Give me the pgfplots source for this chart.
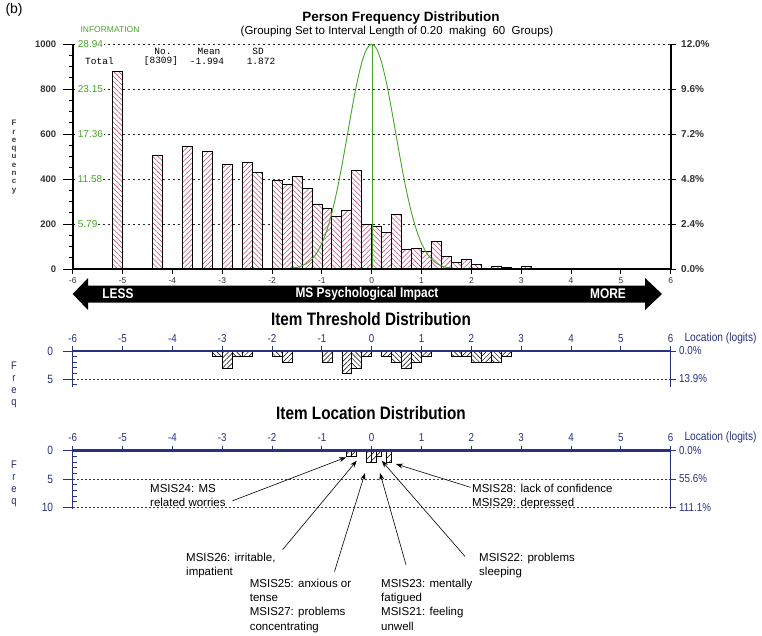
\documentclass[border=0pt]{standalone}
\usepackage{pgfplots}
\pgfplotsset{compat=1.18}
\usetikzlibrary{patterns.meta,arrows.meta}
\usepackage{fontspec}
\setmainfont{Liberation Sans}
\newfontfamily\narrow[FakeStretch=0.85]{Liberation Sans}
\newfontfamily\mono{Liberation Mono}
\definecolor{navy}{RGB}{40,50,125}
\definecolor{igreen}{RGB}{70,165,40}
\definecolor{hpink}{RGB}{195,75,115}
\newcommand{\fs}[2]{\fontsize{#1}{#2}\selectfont}
\pgfplotsset{/pgf/number format/assume math mode=true}
\begin{document}
\begin{tikzpicture}
\useasboundingbox (0,0) rectangle (762pt,-635pt);
% ================= Person Frequency Distribution =================
\begin{axis}[
  at={(72.7pt,-269pt)}, anchor=south west,
  scale only axis, width=598pt, height=225pt,
  xmin=-6, xmax=6, ymin=0, ymax=1000,
  axis x line=none, axis y line*=left,
  axis line style={line width=1.6pt, black},
  xtick=\empty,
  ytick={0,200,400,600,800,1000},
  yticklabels={0,200,400,600,800,1000},
  minor ytick={50,100,150,250,300,350,450,500,550,650,700,750,850,900,950},
  tick align=outside, major tick length=10pt, minor tick length=4pt,
  tick style={black, line width=0.8pt},
  yticklabel style={font=\bfseries\fs{9.5}{10}, text=black!80, xshift=-3pt},
  ymajorgrids, grid style={black!85, dash pattern=on 2.5pt off 2.5pt, line width=0.7pt},
  clip=false,
]
% even bins
\addplot[ybar, bar width=0.2, bar shift=0pt, fill=white, draw=black, line width=0.7pt,
  postaction={pattern={Lines[angle=-45,distance=3.6pt,line width=0.55pt]},pattern color=hpink}]
  coordinates {(-5.1,880) (-4.3,503) (-2.3,431) (-1.9,396) (-1.5,410) (-1.1,289) (-0.7,232) (-0.3,437)
  (0.1,188) (0.5,244) (0.9,93) (1.3,123) (1.7,29) (2.1,19) (2.5,10) (4.1,3) (4.9,3)};
% odd bins
\addplot[ybar, bar width=0.2, bar shift=0pt, fill=white, draw=black, line width=0.7pt,
  postaction={pattern={Lines[angle=45,distance=3.6pt,line width=0.55pt]},pattern color=hpink}]
  coordinates {(-3.7,545) (-3.3,521) (-2.9,463) (-2.5,472) (-1.7,378) (-1.3,358) (-0.9,270) (-0.5,259)
  (-0.1,200) (0.3,161) (0.7,86) (1.1,80) (1.5,56) (1.9,41) (2.7,8) (3.1,10)};
% information curve
\addplot[igreen, line width=0.9pt, smooth] coordinates {
 (-2.4,0) (-2.0,0.2) (-1.8,0.9) (-1.6,3.9) (-1.5,7.6) (-1.4,14) (-1.3,25.5) (-1.2,44) (-1.1,72)
 (-1.0,114) (-0.9,172) (-0.8,249) (-0.7,345) (-0.6,458) (-0.5,581) (-0.4,707) (-0.3,823)
 (-0.2,917) (-0.1,978) (0,1000) (0.1,978) (0.2,917) (0.3,823) (0.4,707) (0.5,581) (0.6,458)
 (0.7,345) (0.8,249) (0.9,172) (1.0,114) (1.1,72) (1.2,44) (1.3,25.5) (1.4,14) (1.5,7.6)
 (1.6,3.9) (1.8,0.9) (2.0,0.2) (2.4,0)};
\addplot[color=igreen, line width=1.3pt] coordinates {(0.01,0) (0.01,1000)};
\foreach \v/\t in {1000/28.94,800/23.15,600/17.36,400/11.58,200/5.79}{
  \edef\tmp{\noexpand\node[igreen, fill=white, inner sep=1pt, anchor=west, font=\noexpand\fs{10}{11}] at (axis cs:-6,\v) [xshift=4pt] {\t};}\tmp
}
\end{axis}
\begin{axis}[
  at={(72.7pt,-269pt)}, anchor=south west,
  scale only axis, width=598pt, height=225pt,
  xmin=-6, xmax=6, ymin=0, ymax=1000,
  axis x line*=bottom, axis y line*=right,
  axis line style={line width=1.6pt, black},
  xtick={-6,-5,-4,-3,-2,-1,0,1,2,3,4,5,6},
  xticklabels={-6,-5,-4,-3,-2,-1,0,1,2,3,4,5,6},
  ytick={0,200,400,600,800,1000},
  yticklabels={0.0\%,2.4\%,4.8\%,7.2\%,9.6\%,12.0\%},
  tick align=outside, major tick length=5pt,
  tick style={black, line width=0.8pt},
  xticklabel style={font=\fs{8.5}{9}, text=black!80},
  yticklabel style={font=\bfseries\fs{10}{11}, text=black!80, xshift=2pt},
]
\addplot[draw=none] coordinates {(0,0)};
\end{axis}
% ================= Item Threshold Distribution =================
\begin{axis}[
  at={(72.7pt,-351pt)}, anchor=north west,
  scale only axis, width=598pt, height=36.4pt,
  xmin=-6, xmax=6, ymin=-6.5, ymax=0,
  axis x line=none, axis y line*=left,
  axis line style={line width=1.4pt, navy},
  xtick=\empty, ytick={-5,0}, yticklabels={5,0},
  minor ytick={-6,-4,-3,-2,-1},
  tick align=outside, major tick length=10pt, minor tick length=4pt,
  tick style={navy, line width=0.8pt},
  minor tick style={xshift=4pt},
  yticklabel style={font=\narrow\fs{12}{13}, text=navy, xshift=-6pt},
  ymajorgrids, grid style={navy, dash pattern=on 2pt off 2pt, line width=0.7pt},
]
\addplot[ybar, bar width=0.2, bar shift=0pt, fill=white, draw=black, line width=0.6pt,
  postaction={pattern={Lines[angle=-45,distance=3.5pt,line width=0.5pt]}}]
  coordinates {(-3.1,-1) (-2.7,-1) (-1.9,-1) (-0.3,-3) (0.5,-2) (0.9,-2) (1.7,-1) (2.1,-2) (2.5,-2)};
\addplot[ybar, bar width=0.2, bar shift=0pt, fill=white, draw=black, line width=0.6pt,
  postaction={pattern={Lines[angle=45,distance=3.5pt,line width=0.5pt]}}]
  coordinates {(-2.9,-3) (-2.5,-1) (-1.7,-2) (-0.9,-2) (-0.5,-4) (-0.1,-1) (0.3,-1) (0.7,-3) (1.1,-1) (1.9,-1) (2.3,-2) (2.7,-1)};
\end{axis}
\begin{axis}[
  at={(72.7pt,-351pt)}, anchor=north west,
  scale only axis, width=598pt, height=36.4pt,
  xmin=-6, xmax=6, ymin=-6.5, ymax=0,
  axis x line*=top, axis y line*=right,
  x axis line style={line width=2.2pt, navy},
  y axis line style={line width=1.4pt, navy},
  xtick={-6,-5,-4,-3,-2,-1,0,1,2,3,4,5,6},
  xticklabels={-6,-5,-4,-3,-2,-1,0,1,2,3,4,5,6},
  ytick={-5,0}, yticklabels={13.9\%,0.0\%},
  tick align=outside, major tick length=5pt,
  tick style={navy, line width=0.8pt},
  ticklabel style={font=\narrow\fs{11.5}{12}, text=navy},
]
\addplot[draw=none] coordinates {(0,0)};
\end{axis}
% ================= Item Location Distribution =================
\begin{axis}[
  at={(72.7pt,-450.5pt)}, anchor=north west,
  scale only axis, width=598pt, height=58.7pt,
  xmin=-6, xmax=6, ymin=-10.3, ymax=0,
  axis x line=none, axis y line*=left,
  axis line style={line width=1.4pt, navy},
  xtick=\empty, ytick={-10,-5,0}, yticklabels={10,5,0},
  minor ytick={-9,-8,-7,-6,-4,-3,-2,-1},
  tick align=outside, major tick length=10pt, minor tick length=4pt,
  tick style={navy, line width=0.8pt},
  minor tick style={xshift=4pt},
  yticklabel style={font=\narrow\fs{12}{13}, text=navy, xshift=-6pt},
  ymajorgrids, grid style={navy, dash pattern=on 2pt off 2pt, line width=0.7pt},
]
\addplot[ybar, bar width=0.1, bar shift=0pt, fill=white, draw=black, line width=0.6pt,
  postaction={pattern={Lines[angle=45,distance=4.5pt,line width=0.5pt]}}]
  coordinates {(-0.45,-1) (-0.35,-1) (-0.05,-2) (0.05,-2) (0.15,-1) (0.35,-2)};
\end{axis}
\begin{axis}[
  at={(72.7pt,-450.5pt)}, anchor=north west,
  scale only axis, width=598pt, height=58.7pt,
  xmin=-6, xmax=6, ymin=-10.3, ymax=0,
  axis x line*=top, axis y line*=right,
  x axis line style={line width=2.2pt, navy},
  y axis line style={line width=1.4pt, navy},
  xtick={-6,-5,-4,-3,-2,-1,0,1,2,3,4,5,6},
  xticklabels={-6,-5,-4,-3,-2,-1,0,1,2,3,4,5,6},
  ytick={-10,-5,0}, yticklabels={111.1\%,55.6\%,0.0\%},
  tick align=outside, major tick length=5pt,
  tick style={navy, line width=0.8pt},
  ticklabel style={font=\narrow\fs{11.5}{12}, text=navy},
]
\addplot[draw=none] coordinates {(0,0)};
\end{axis}
% ================= texts and decorations =================
\begin{scope}[x=1pt,y=-1pt]
\node[anchor=west, font=\fs{14}{16}] at (2,10) {(b)};
\node[font=\bfseries\fs{13.5}{15}] at (401,18) {Person Frequency Distribution};
\node[font=\fs{11.5}{13}] at (397,32) {(Grouping Set to Interval Length of 0.20\ \ making\ \ 60\ \ Groups)};
\node[anchor=west, igreen, font=\fs{8.5}{10}] at (77,30) {INFORMATION};
\begin{scope}[every node/.style={inner sep=0pt, font=\mono\fs{9.5}{10}}]
\node at (163,51) {No.};
\node at (209,51) {Mean};
\node at (258,51) {SD};
\node[anchor=west] at (85,61.5) {Total};
\node at (161,61.5) {[8309]};
\node at (207,61.5) {-1.994};
\node at (261,61.5) {1.872};
\end{scope}
\node[align=center, text=black!75, font=\bfseries\fs{8}{8.3}] at (14,157) {F\\r\\e\\q\\u\\e\\n\\c\\y};
% arrow band
\fill[black] (72.7,294) -- (88,278) -- (88,285.5) -- (645,285.5) -- (645,278) -- (662,294)
  -- (645,310) -- (645,302.5) -- (88,302.5) -- (88,310) -- cycle;
\node[white, font=\narrow\bfseries\fs{14}{15}] at (118,294) {LESS};
\node[white, font=\narrow\bfseries\fs{14}{15}] at (367,294) {MS Psychological Impact};
\node[white, font=\narrow\bfseries\fs{14}{15}] at (608,294) {MORE};
% lower panel titles
\node[font=\narrow\bfseries\fs{18}{20}] at (371,319) {Item Threshold Distribution};
\node[font=\narrow\bfseries\fs{18}{20}] at (371,413) {Item Location Distribution};
\node[anchor=west, navy, font=\narrow\fs{12}{13}] at (681,338) {Location (logits)};
\node[anchor=west, navy, font=\narrow\fs{12}{13}] at (681,437) {Location (logits)};
\node[align=center, text=navy!80!black, font=\narrow\fs{11}{12}] at (14,385) {F\\r\\e\\q};
\node[align=center, text=navy!80!black, font=\narrow\fs{11}{12}] at (14,484) {F\\r\\e\\q};
% annotations
\begin{scope}[font=\fs{11.5}{14.2}]
\node[anchor=north west, align=left, inner sep=0pt] at (150,484) {MSIS24: MS\\related worries};
\node[anchor=north west, align=left, inner sep=0pt] at (472,484) {MSIS28: lack of confidence\\MSIS29: depressed};
\node[anchor=north west, align=left, inner sep=0pt] at (186,553) {MSIS26: irritable,\\impatient};
\node[anchor=north west, align=left, inner sep=0pt] at (479,553) {MSIS22: problems\\sleeping};
\node[anchor=north west, align=left, inner sep=0pt] at (249.6,579) {MSIS25: anxious or\\tense\\MSIS27: problems\\concentrating};
\node[anchor=north west, align=left, inner sep=0pt] at (381,579) {MSIS23: mentally\\fatigued\\MSIS21: feeling\\unwell};
\end{scope}
\begin{scope}[-{Stealth[length=7pt,width=5pt]}, line width=0.6pt]
\draw (232.5,500.8) -- (346,457.3);
\draw (282.6,549.6) -- (356.7,460.7);
\draw (334.5,571.5) -- (365,473);
\draw (406,564.8) -- (380,473);
\draw (465,556.4) -- (381.7,460.7);
\draw (470.5,487.3) -- (396,464);
\end{scope}
\end{scope}
\end{tikzpicture}
\end{document}
